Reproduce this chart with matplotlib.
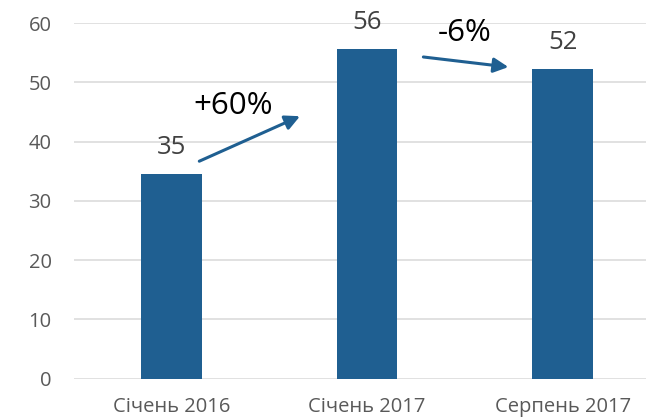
import matplotlib
matplotlib.use("Agg")
import matplotlib.pyplot as plt

plt.rcParams['font.family'] = ['Open Sans', 'DejaVu Sans']

categories = ["Січень 2016", "Січень 2017", "Серпень 2017"]
values = [34.6, 55.6, 52.3]
value_labels = ["35", "56", "52"]
changes = ["+60%", "-6%"]

bar_color = '#1F5F91'

fig = plt.figure(figsize=(6.46, 4.2), dpi=100)
ax = fig.add_axes([0.1142, 0.0987, 0.908, 0.846])

x = list(range(len(categories)))
ax.bar(x, values, width=0.31, color=bar_color, zorder=3)

for xi, v, lab in zip(x, values, value_labels):
    ax.annotate(lab, (xi, v), xytext=(0, 14.5), textcoords='offset points',
                ha='center', va='baseline', fontsize=18.5, color='#404040')

ax.set_xlim(-0.5, 2.5)
ax.set_ylim(0, 60)
ax.set_yticks(range(0, 61, 10))
ax.set_xticks(x)
ax.set_xticklabels(categories)
ax.tick_params(axis='y', length=0, pad=16, labelsize=14.5, labelcolor='#595959')
ax.tick_params(axis='x', length=0, pad=13, labelsize=14.5, labelcolor='#595959')
ax.grid(axis='y', color='#D9D9D9', linewidth=1.1, zorder=0)
for s in ax.spines.values():
    s.set_visible(False)

# change arrows between bars
arrows = [((0.142, 36.7), (0.657, 44.3)), ((1.288, 54.3), (1.723, 52.6))]
text_pos = [(0.315, 46.1), (1.499, 58.3)]
for (start, end), tp, txt in zip(arrows, text_pos, changes):
    ax.annotate('', xy=end, xytext=start,
                arrowprops=dict(arrowstyle='-|>', color=bar_color, lw=2.2,
                                mutation_scale=22, shrinkA=0, shrinkB=0))
    ax.text(tp[0], tp[1], txt, ha='center', va='center', fontsize=22.5, color='black')

fig.savefig('out.png', dpi=100)
